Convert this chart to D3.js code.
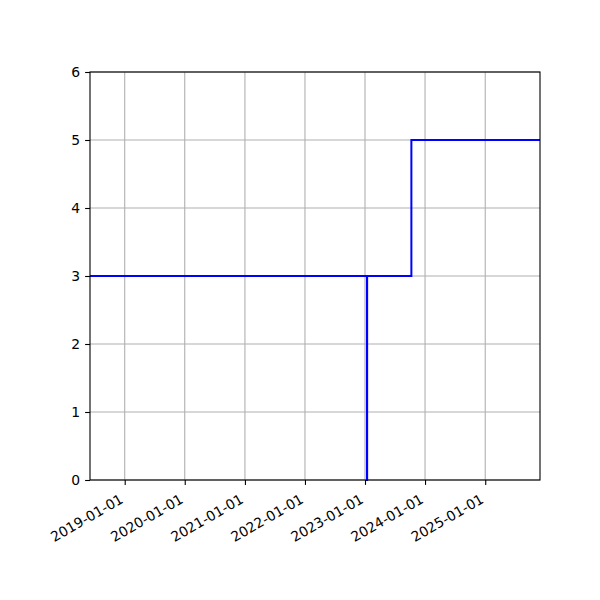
<!DOCTYPE html>
<html>
<head>
<meta charset="utf-8">
<script src="https://cdn.jsdelivr.net/npm/d3@7"></script>
<style>
  body { margin: 0; background: #fff; }
  svg { display: block; font-family: 'DejaVu Sans', sans-serif; }
</style>
</head>
<body>
<svg id="chart" width="600" height="600"></svg>
<script>
// data (step "post")
const dates = ['2018-06-04', '2023-01-13', '2023-01-14', '2023-10-10', '2025-11-30'];
const values = [3, 0, 3, 5, 5];
const xTicks = ['2019-01-01', '2020-01-01', '2021-01-01', '2022-01-01', '2023-01-01', '2024-01-01', '2025-01-01'];
const yTicks = [0, 1, 2, 3, 4, 5, 6];

const parse = d3.utcParse('%Y-%m-%d');
const fmt = d3.utcFormat('%Y-%m-%d');
const points = dates.map((d, i) => ({ date: parse(d), value: values[i] }));

const svg = d3.select('#chart');
const margin = { top: 72, right: 60, bottom: 120, left: 90 };
const width = 600 - margin.left - margin.right;
const height = 600 - margin.top - margin.bottom;

const g = svg.append('g')
  .attr('transform', `translate(${margin.left},${margin.top})`);

const x = d3.scaleUtc()
  .domain([parse(dates[0]), parse(dates[dates.length - 1])])
  .range([0, width]);

const y = d3.scaleLinear()
  .domain([0, 6])
  .range([height, 0]);

// grid
g.append('g')
  .selectAll('line')
  .data(xTicks)
  .enter()
  .append('line')
  .attr('x1', d => x(parse(d)))
  .attr('x2', d => x(parse(d)))
  .attr('y1', 0)
  .attr('y2', height)
  .attr('stroke', '#b0b0b0')
  .attr('stroke-width', 1.1);

g.append('g')
  .selectAll('line')
  .data(yTicks)
  .enter()
  .append('line')
  .attr('x1', 0)
  .attr('x2', width)
  .attr('y1', d => y(d))
  .attr('y2', d => y(d))
  .attr('stroke', '#b0b0b0')
  .attr('stroke-width', 1.1);

// step line
const line = d3.line()
  .x(d => x(d.date))
  .y(d => y(d.value))
  .curve(d3.curveStepAfter);

g.append('path')
  .datum(points)
  .attr('fill', 'none')
  .attr('stroke', '#0000ff')
  .attr('stroke-width', 2)
  .attr('d', line);

// y axis
const yAxis = g.append('g')
  .call(d3.axisLeft(y).tickValues(yTicks).tickSize(4.9).tickPadding(4.9).tickFormat(d3.format('d')));
yAxis.select('.domain').remove();
yAxis.selectAll('line').attr('stroke', '#000').attr('stroke-width', 1.1);
yAxis.selectAll('text').style('font-size', '13.9px').style('fill', '#000')
  .style('font-family', "'DejaVu Sans', sans-serif");

// x axis
const xAxis = g.append('g')
  .attr('transform', `translate(0,${height})`)
  .call(d3.axisBottom(x).tickValues(xTicks.map(parse)).tickSize(4.9).tickFormat(fmt));
xAxis.select('.domain').remove();
xAxis.selectAll('line').attr('stroke', '#000').attr('stroke-width', 1.1);
xAxis.selectAll('text')
  .style('font-size', '13.9px')
  .style('fill', '#000')
  .style('font-family', "'DejaVu Sans', sans-serif")
  .attr('text-anchor', 'end')
  .attr('y', 0)
  .attr('dy', 0)
  .attr('transform', 'translate(-1,22) rotate(-30)');

// spines
g.append('rect')
  .attr('x', 0)
  .attr('y', 0)
  .attr('width', width)
  .attr('height', height)
  .attr('fill', 'none')
  .attr('stroke', '#000')
  .attr('stroke-width', 1.1);
</script>
</body>
</html>
